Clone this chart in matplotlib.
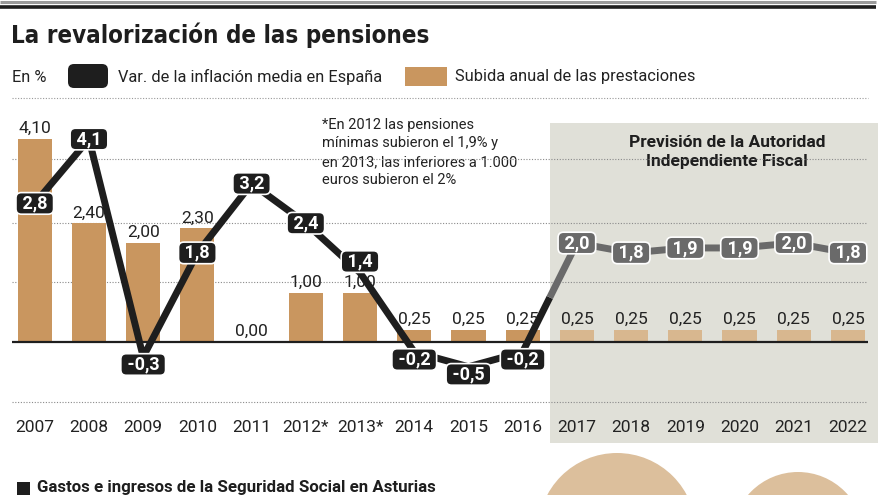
import matplotlib.pyplot as plt
from matplotlib.patches import Rectangle, Circle, FancyBboxPatch
from matplotlib.transforms import blended_transform_factory
import numpy as np

# data
years = ['2007', '2008', '2009', '2010', '2011', '2012*', '2013*', '2014',
         '2015', '2016', '2017', '2018', '2019', '2020', '2021', '2022']
subida = [4.10, 2.40, 2.00, 2.30, 0.00, 1.00, 1.00, 0.25,
          0.25, 0.25, 0.25, 0.25, 0.25, 0.25, 0.25, 0.25]
inflacion = [2.8, 4.1, -0.3, 1.8, 3.2, 2.4, 1.4, -0.2,
             -0.5, -0.2, 2.0, 1.8, 1.9, 1.9, 2.0, 1.8]
n_real = 10  # 2007-2016 real, 2017-2022 prevision
grid_levels = [-1.21, 1.21, 2.4, 3.7]

nota = ('*En 2012 las pensiones\nmínimas subieron el 1,9% y\n'
        'en 2013, las inferiores a 1.000\neuros subieron el 2%')

plt.rcParams['font.family'] = ['Roboto', 'DejaVu Sans']

BLACK = '#1e1e1e'
GRAY = '#6a6a6a'
TAN = '#c9965f'
TAN_L = '#d8b78f'
SHADE = '#e0e0d8'

fig = plt.figure(figsize=(8.8, 4.95), dpi=100)

# background layer in pixel coords
bg = fig.add_axes([0, 0, 1, 1], zorder=-1)
bg.set_xlim(0, 880)
bg.set_ylim(495, 0)
bg.axis('off')

bg.plot([0, 876], [1.5, 1.5], color='#9a9a9a', lw=2.2, solid_capstyle='butt')
bg.plot([0, 876], [6.5, 6.5], color=BLACK, lw=2.6, solid_capstyle='butt')
bg.text(11, 43, 'La revalorización de las pensiones', fontsize=17.3,
        weight='bold', color=BLACK, va='baseline',
        family=['DejaVu Sans'], fontstretch='condensed')

# legend row
bg.text(12, 77, 'En %', fontsize=11.8, color='#222', va='center')
bg.add_patch(FancyBboxPatch((68, 64), 40, 24, boxstyle='round,pad=0,rounding_size=6',
                            fc=BLACK, ec='none'))
bg.text(118, 77, 'Var. de la inflación media en España', fontsize=11.8,
        color='#222', va='center')
bg.add_patch(Rectangle((405, 67), 42, 19, fc=TAN, ec='none'))
bg.text(455, 77, 'Subida anual de las prestaciones', fontsize=11.8,
        color='#222', va='center')
bg.plot([12, 868], [98, 98], color='#999', lw=0.8, ls=(0, (1, 1.5)))

# forecast shade
bg.add_patch(Rectangle((550, 123), 328, 320, fc=SHADE, ec='none'))
bg.text(727, 152, 'Previsión de la Autoridad\nIndependiente Fiscal',
        ha='center', va='center', fontsize=12.5, weight='bold', color=BLACK,
        linespacing=1.3, zorder=5,
        bbox=dict(boxstyle='square,pad=0.15', fc=SHADE, ec='none'))

bg.text(322, 118, nota, va='top', fontsize=10.5, color='#222',
        linespacing=1.4, zorder=5,
        bbox=dict(boxstyle='square,pad=0.15', fc='white', ec='none'))

# next section teaser
bg.add_patch(Circle((617, 532), 79, fc='#dcbf9c', ec='none'))
bg.add_patch(Circle((798, 538), 66, fc='#dcbf9c', ec='none'))
bg.add_patch(Rectangle((17, 482), 13, 13, fc=BLACK, ec='none'))
bg.text(37, 480, 'Gastos e ingresos de la Seguridad Social en Asturias',
        fontsize=12.2, weight='bold', color=BLACK, va='top')

# main chart
ax = fig.add_axes([12 / 880, 52 / 495, 856 / 880, 343 / 495])
ax.set_facecolor('none')
ax.set_xlim(-0.42, 15.37)
ax.set_ylim(-101 / 49.5, 242 / 49.5)
ax.axis('off')

x = np.arange(len(years))
for g in grid_levels:
    ax.axhline(g, color='#8a8a8a', lw=0.8, ls=(0, (1, 1.5)), zorder=0.5)

colors = [TAN if i < n_real else TAN_L for i in x]
ax.bar(x, subida, width=0.63, color=colors, zorder=2)
for i, v in zip(x, subida):
    ax.annotate(f'{v:.2f}'.replace('.', ','), (i, v), xytext=(0, 2),
                textcoords='offset points', ha='center', va='bottom',
                fontsize=12.5, color='#222', zorder=3)

ax.axhline(0, color=BLACK, lw=1.6, zorder=3)

# inflation line: black for real, gray for forecast
mid = (inflacion[n_real - 1] + inflacion[n_real]) / 2
ax.plot(x[:n_real], inflacion[:n_real], color=BLACK, lw=5, zorder=4)
ax.plot([n_real - 1, n_real - 0.5], [inflacion[n_real - 1], mid], color=BLACK,
        lw=5, zorder=4, solid_capstyle='butt')
ax.plot([n_real - 0.5, n_real], [mid, inflacion[n_real]], color=GRAY,
        lw=5, zorder=4, solid_capstyle='butt')
ax.plot(x[n_real:], inflacion[n_real:], color=GRAY, lw=5, zorder=4)

for i, v in zip(x, inflacion):
    c = BLACK if i < n_real else GRAY
    off = -5.5 if v < 0 else 0
    if years[i] == '2013*':
        off = 8  # keep clear of the bar label
    ax.annotate(' ' + f'{v:.1f}'.replace('.', ',') + ' ', (i, v),
                xytext=(0, off), textcoords='offset points',
                ha='center', va='center',
                fontsize=13, weight='bold', color='white', zorder=6,
                bbox=dict(boxstyle='round,pad=0.1,rounding_size=0.3',
                          fc=c, ec='white', lw=1.2))

trans = blended_transform_factory(ax.transData, fig.transFigure)
for i, y in zip(x, years):
    ax.text(i, 1 - 428 / 495, y, transform=trans, ha='center', va='center',
            fontsize=12.5, color='#222')

fig.savefig('out.png', dpi=100)
